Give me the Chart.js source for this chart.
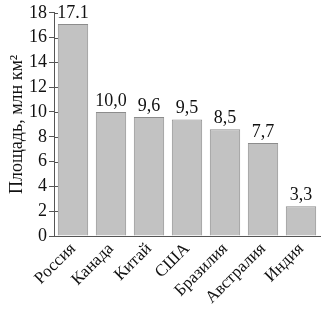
<!DOCTYPE html>
<html lang="ru">
<head>
  <meta charset="UTF-8" />
  <title>Площадь стран</title>
  <script src="https://cdn.jsdelivr.net/npm/chart.js"></script>
  <style>
    html, body { margin: 0; padding: 0; background: #fff; }
    #wrap { width: 327px; height: 315px; }
  </style>
</head>
<body>
  <div id="wrap"><canvas id="areaChart" width="327" height="315"></canvas></div>

  <script>
    const countries = ["Россия", "Канада", "Китай", "США", "Бразилия", "Австралия", "Индия"];
    const areas = [17.1, 10.0, 9.6, 9.4, 8.6, 7.5, 2.4];
    const valueLabels = ["17.1", "10,0", "9,6", "9,5", "8,5", "7,7", "3,3"];
    const yTicks = [0, 2, 4, 6, 8, 10, 12, 14, 16, 18];

    const serif = "'Liberation Serif', 'DejaVu Serif', serif";

    // подписи над столбиками
    const barLabels = {
      id: "barLabels",
      afterDatasetsDraw(chart) {
        const ctx = chart.ctx;
        const meta = chart.getDatasetMeta(0);
        ctx.save();
        ctx.font = "18px " + serif;
        ctx.fillStyle = "#111";
        ctx.textAlign = "center";
        ctx.textBaseline = "bottom";
        meta.data.forEach((bar, i) => {
          ctx.fillText(valueLabels[i], bar.x, bar.y - 2);
        });
        ctx.restore();
      }
    };

    // засечки, пересекающие ось Y
    const innerTicks = {
      id: "innerTicks",
      afterDraw(chart) {
        const ctx = chart.ctx;
        const y = chart.scales.y;
        ctx.save();
        ctx.strokeStyle = "#555";
        ctx.lineWidth = 1;
        yTicks.forEach(v => {
          const py = Math.round(y.getPixelForValue(v)) + 0.5;
          ctx.beginPath();
          ctx.moveTo(y.right, py);
          ctx.lineTo(y.right + 4, py);
          ctx.stroke();
        });
        ctx.restore();
      }
    };

    new Chart(document.getElementById("areaChart"), {
      type: "bar",
      data: {
        labels: countries,
        datasets: [{
          data: areas,
          backgroundColor: "#c2c2c2",
          borderColor: "#8c8c8c",
          borderWidth: 1,
          barPercentage: 0.8,
          categoryPercentage: 1.0
        }]
      },
      options: {
        responsive: false,
        animation: false,
        layout: { padding: { top: 10, right: 7, left: 0, bottom: 0 } },
        plugins: {
          legend: { display: false },
          tooltip: { enabled: false }
        },
        scales: {
          x: {
            grid: { display: false, drawTicks: false },
            border: { color: "#555", width: 1 },
            ticks: {
              color: "#111",
              font: { family: serif, size: 17 },
              maxRotation: 45,
              minRotation: 45,
              padding: 3,
              autoSkip: false
            },
            afterFit(scale) { scale.height = 79; }
          },
          y: {
            min: 0,
            max: 18,
            afterBuildTicks(scale) { scale.ticks = yTicks.map(v => ({ value: v })); },
            grid: { drawOnChartArea: false, tickLength: 5, color: "#555" },
            border: { color: "#555", width: 1 },
            ticks: {
              color: "#111",
              font: { family: serif, size: 18 },
              padding: 2
            },
            title: {
              display: true,
              text: "Площадь, млн км²",
              color: "#111",
              font: { family: serif, size: 18 },
              padding: { top: 6, bottom: 0 }
            },
            afterFit(scale) { scale.width = 54; }
          }
        }
      },
      plugins: [barLabels, innerTicks]
    });
  </script>
</body>
</html>
